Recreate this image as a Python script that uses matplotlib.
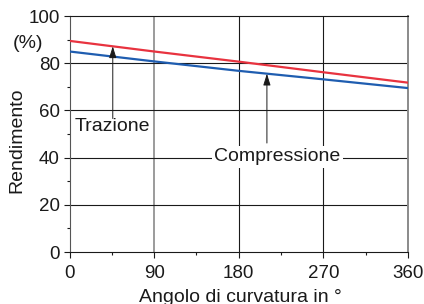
import matplotlib
matplotlib.use("Agg")
import matplotlib.pyplot as plt
import numpy as np
from matplotlib.ticker import MultipleLocator

plt.rcParams['font.family'] = ['Liberation Sans', 'DejaVu Sans']

angles = [0, 90, 180, 270, 360]
trazione = [89.5, 85.0, 80.7, 76.2, 71.8]
compressione = [85.0, 80.8, 76.8, 73.2, 69.5]
xticks = [0, 90, 180, 270, 360]
yticks = [0, 20, 40, 60, 80, 100]

fig = plt.figure(figsize=(4.24, 3.04), dpi=100)
ax = fig.add_axes([0.164, 0.171, 0.798, 0.776])
ax.set_xlim(0, 360)
ax.set_ylim(0, 100)
ax.set_axisbelow(True)

for v in [180, 270]:
    ax.axvline(v, color='#1a1a1a', lw=0.8, zorder=0)
ax.axvline(90, color='#8a8a8a', lw=1.2, zorder=0)
for v in [20, 40, 60, 80]:
    ax.axhline(v, color='#1a1a1a', lw=0.8, zorder=0)

ax.plot(angles, trazione, color='#e8333f', lw=1.6, zorder=3)
ax.plot(angles, compressione, color='#1f5db0', lw=1.6, zorder=3)

ax.set_xticks(xticks)
ax.set_yticks(yticks)
ax.xaxis.set_minor_locator(MultipleLocator(45))
ax.yaxis.set_minor_locator(MultipleLocator(10))
ax.tick_params(axis='both', which='major', direction='out', length=4, width=0.8,
               labelsize=13.5, colors='#1a1a1a')
ax.tick_params(axis='x', which='major', pad=5)
ax.tick_params(axis='y', which='major', pad=3)
ax.tick_params(axis='both', which='minor', direction='out', length=2, width=0.8,
               colors='#1a1a1a')

for s in ['top', 'bottom', 'left']:
    ax.spines[s].set_color('#1a1a1a')
    ax.spines[s].set_linewidth(0.8)
ax.spines['left'].set_color('#555555')
ax.spines['right'].set_color('#8a8a8a')
ax.spines['right'].set_linewidth(1.4)

# Trazione annotation
tx = 46
ax.text(tx, 53.4, 'Trazione', ha='center', va='center', fontsize=14, color='#1a1a1a', zorder=4)
ax.annotate('', xy=(tx, np.interp(tx, angles, trazione)), xytext=(tx, 56.6),
            arrowprops=dict(arrowstyle='-|>,head_width=0.22,head_length=0.7',
                            color='#1a1a1a', lw=0.7, shrinkA=0, shrinkB=0), zorder=4)

# Compressione annotation
cx = 210
ax.text(221.4, 40.3, 'Compressione', ha='center', va='center', fontsize=14, color='#1a1a1a',
        bbox=dict(boxstyle='square,pad=0.12', fc='white', ec='none'), zorder=4)
ax.annotate('', xy=(cx, np.interp(cx, angles, compressione)), xytext=(cx, 46.2),
            arrowprops=dict(arrowstyle='-|>,head_width=0.22,head_length=0.7',
                            color='#1a1a1a', lw=0.7, shrinkA=0, shrinkB=0), zorder=4)

fig.text(17 / 424, 1 - 140.5 / 304, 'Rendimento', rotation=90, ha='center', va='center',
         fontsize=14, color='#1a1a1a')
fig.text(27.5 / 424, 1 - 43 / 304, '(%)', ha='center', va='center', fontsize=14, color='#1a1a1a')
fig.text(240 / 424, 1 - 298 / 304, 'Angolo di curvatura in °', ha='center', va='center',
         fontsize=14, color='#1a1a1a')

fig.savefig('out.png', dpi=100)
